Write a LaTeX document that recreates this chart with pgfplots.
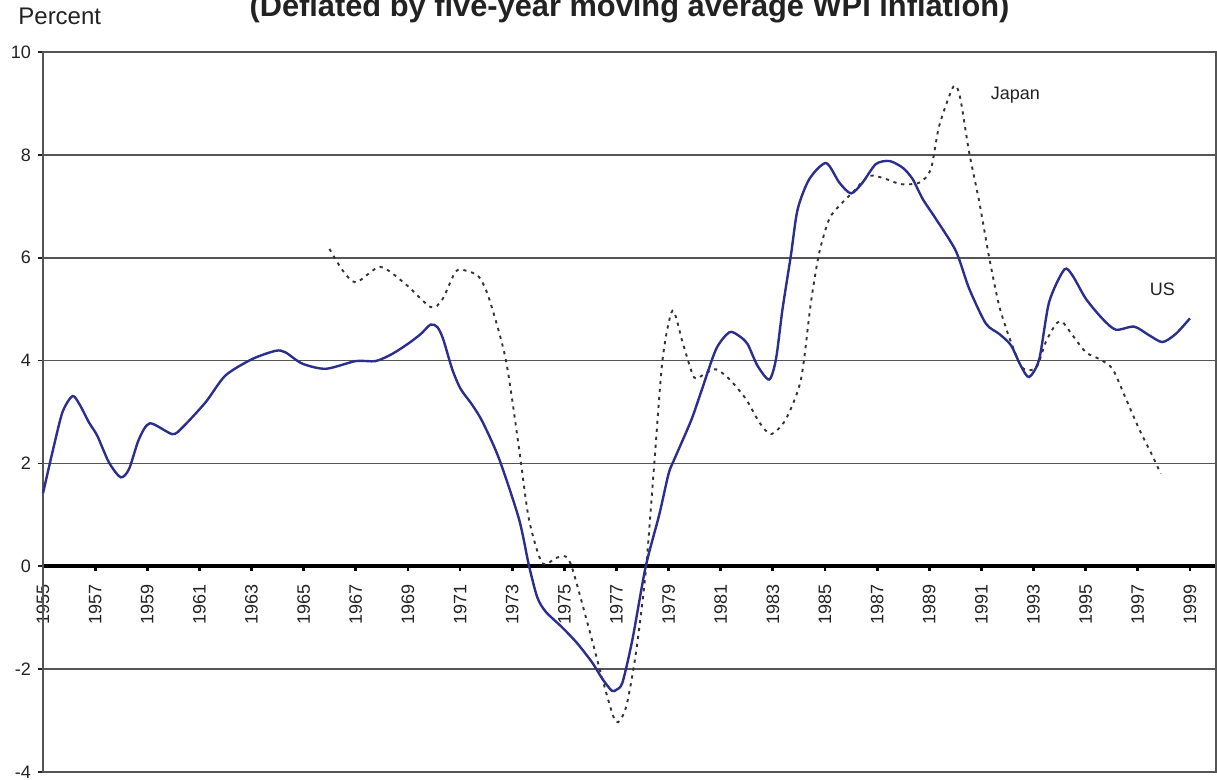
\documentclass[border=0pt]{standalone}
\usepackage{fontspec}
\setmainfont{Liberation Sans}
\usepackage{pgfplots}
\pgfplotsset{compat=1.18}
\definecolor{usblue}{HTML}{2B2E8F}
\definecolor{jpgrey}{HTML}{333333}
\definecolor{gridgrey}{HTML}{555555}
\definecolor{txt}{HTML}{222222}

\pgfplotstableread{
year   val
1955.0  1.42
1955.4  2.30
1955.75 3.00
1956.13 3.31
1956.4  3.15
1956.76 2.80
1957.08 2.54
1957.53 2.02
1957.98 1.73
1958.3  1.89
1958.68 2.47
1959.1  2.78
1959.96 2.57
1960.35 2.70
1961.24 3.19
1962.0  3.71
1963.03 4.03
1963.93 4.19
1964.3  4.16
1964.95 3.94
1965.85 3.84
1967.0  3.99
1967.76 3.99
1968.4  4.13
1969.04 4.34
1969.5  4.52
1969.87 4.70
1970.13 4.65
1970.35 4.42
1970.7  3.83
1971.02 3.45
1971.45 3.15
1971.85 2.82
1972.49 2.10
1973.26 0.92
1973.64 0.02
1973.96 -0.60
1974.28 -0.88
1974.92 -1.19
1975.5  -1.50
1976.08 -1.88
1976.46 -2.19
1976.82 -2.42
1977.0  -2.40
1977.23 -2.26
1977.61 -1.43
1978.12 -0.01
1978.64 1.00
1979.0  1.80
1979.22 2.08
1979.86 2.83
1980.24 3.38
1980.82 4.22
1981.33 4.55
1981.7  4.48
1982.03 4.32
1982.41 3.90
1982.86 3.63
1983.12 4.03
1983.37 5.00
1983.69 6.04
1983.95 6.94
1984.4  7.53
1985.04 7.84
1985.55 7.46
1986.0  7.25
1986.44 7.46
1986.95 7.82
1987.47 7.88
1987.98 7.75
1988.36 7.53
1988.75 7.14
1989.26 6.75
1990.02 6.13
1990.53 5.40
1991.17 4.72
1991.68 4.52
1992.13 4.30
1992.51 3.90
1992.83 3.68
1993.22 4.03
1993.6  5.14
1994.18 5.77
1994.5  5.65
1995.01 5.20
1995.65 4.81
1996.16 4.60
1996.86 4.66
1997.44 4.49
1997.95 4.36
1998.46 4.52
1999.0  4.82
}\usdata

\pgfplotstableread{
year   val
1965.99 6.17
1966.5  5.75
1967.01 5.52
1967.94 5.82
1968.9  5.49
1969.87 5.04
1970.31 5.18
1970.83 5.73
1971.21 5.75
1971.72 5.63
1972.11 5.21
1972.75 4.03
1973.26 2.30
1973.64 0.92
1974.15 0.06
1974.67 0.16
1975.05 0.19
1975.31 -0.05
1975.95 -1.22
1976.46 -2.19
1976.97 -3.02
1977.36 -2.75
1977.74 -1.71
1978.12 -0.12
1978.45 1.99
1978.77 4.03
1979.15 4.97
1979.54 4.35
1979.98 3.67
1980.4  3.75
1980.82 3.83
1981.33 3.64
1981.97 3.25
1982.48 2.80
1982.93 2.57
1983.5  2.86
1984.08 3.64
1984.46 5.13
1984.78 6.10
1985.16 6.75
1985.55 7.01
1986.06 7.27
1986.7  7.59
1987.34 7.53
1987.91 7.43
1988.62 7.46
1989.06 7.72
1989.38 8.56
1989.93 9.33
1990.18 9.12
1990.53 8.05
1990.92 7.08
1991.3  6.00
1991.68 5.07
1992.07 4.45
1992.51 3.90
1992.83 3.81
1993.15 3.90
1993.47 4.36
1993.86 4.71
1994.11 4.75
1994.5  4.49
1995.01 4.16
1995.52 4.03
1996.03 3.84
1996.54 3.26
1997.05 2.67
1997.56 2.15
1997.88 1.80
}\jpdata

\begin{document}
\begin{tikzpicture}[font=\fontsize{9}{11}\selectfont, text=txt]
\begin{axis}[
  scale only axis, width=586.5pt, height=360pt,
  xmin=1955, xmax=2000, ymin=-4, ymax=10,
  axis x line*=middle, axis y line*=left,
  hide obscured x ticks=false, hide obscured y ticks=false,
  xtick={1955,1957,...,1999},
  ytick={-4,-2,...,10},
  /pgf/number format/assume math mode=true,
  /pgf/number format/1000 sep={},
  xticklabel style={rotate=90, anchor=east, text=txt},
  xticklabel shift=3pt,
  yticklabel style={text=txt},
  ymajorgrids, major grid style={gridgrey, line width=0.9pt},
  tick align=outside, major tick length=2.5pt,
  x axis line style={black, line width=1.8pt},
  y axis line style={txt, line width=1.3pt},
  xtick style={black, line width=1.4pt},
  ytick style={txt, line width=0.8pt},
  clip=false,
]
\draw[gridgrey, line width=0.9pt] (rel axis cs:0,0) rectangle (rel axis cs:1,1);

\addplot[jpgrey, line width=0.95pt, dash pattern=on 1.6pt off 2.4pt, smooth, tension=0.45]
  table[x=year, y=val] {\jpdata};
\addplot[usblue, line width=1.2pt, smooth, tension=0.45]
  table[x=year, y=val] {\usdata};

\node[font=\fontsize{9}{11}\selectfont] at (axis cs:1992.3,9.16) {Japan};
\node[font=\fontsize{9}{11}\selectfont] at (axis cs:1997.94,5.39) {US};

\node[anchor=base west, inner sep=0pt, font=\fontsize{12}{14}\selectfont]
  at ([xshift=-12.5pt, yshift=13.5pt]rel axis cs:0,1) {Percent};
\node[anchor=base, inner sep=0pt, font=\bfseries\fontsize{15.4}{18}\selectfont]
  at ([yshift=17.5pt]rel axis cs:0.5,1)
  {(Deflated by five-year moving average WPI inflation)};
\end{axis}
\pgfresetboundingbox
\path[use as bounding box] (-21.5pt,-4pt) rectangle (587pt,386pt);
\end{tikzpicture}
\end{document}
